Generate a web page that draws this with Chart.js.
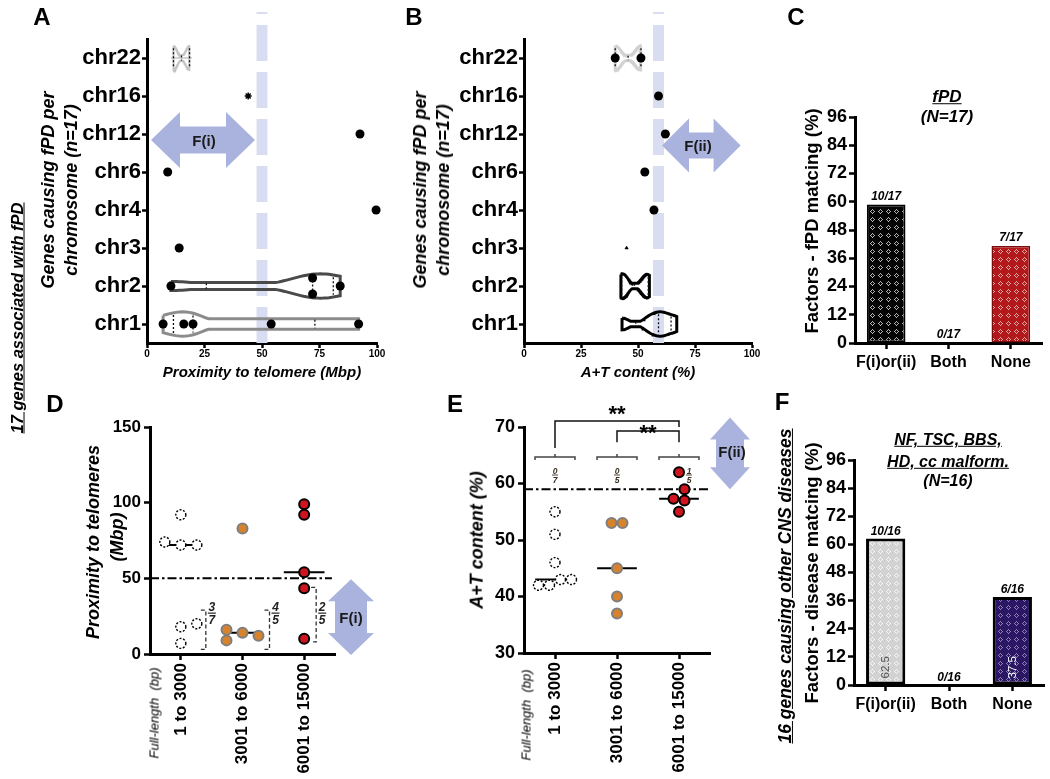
<!DOCTYPE html>
<html>
<head>
<meta charset="utf-8">
<title>Figure</title>
<script src="https://cdn.jsdelivr.net/npm/chart.js@4.4.1/dist/chart.umd.min.js"></script>
<style>
html,body{margin:0;padding:0;background:#fff;}
#fig{position:relative;width:1050px;height:779px;overflow:hidden;background:#fff;font-family:"Liberation Sans",Arial,Helvetica,sans-serif;color:#000;}
#fig canvas{position:absolute;}
.t{position:absolute;white-space:nowrap;font-weight:bold;line-height:1.15;transform:translate(-50%,-50%);z-index:5;text-align:center;}
.rot{transform:translate(-50%,-50%) rotate(-90deg);}
.it{font-style:italic;}
.ul{text-decoration:underline;}
.nw{font-weight:normal;}
</style>
</head>
<body>
<div id="fig">
  <div class="t" style="left:42px;top:17px;font-size:24px;">A</div>
  <div class="t" style="left:414px;top:17px;font-size:24px;">B</div>
  <div class="t" style="left:796px;top:17px;font-size:24px;">C</div>
  <div class="t" style="left:55px;top:404px;font-size:24px;">D</div>
  <div class="t" style="left:455px;top:404px;font-size:24px;">E</div>
  <div class="t" style="left:782px;top:402px;font-size:24px;">F</div>

  <div class="t rot it ul" style="left:17px;top:318px;font-size:16.5px;">17 genes associated with fPD</div>

  <div class="t rot it" style="left:60px;top:190px;font-size:18px;line-height:23px;">Genes causing fPD per<br>chromosome (n=17)</div>
  <div class="t it" style="left:262px;top:372px;font-size:15px;">Proximity to telomere (Mbp)</div>
  <div class="t" style="left:204px;top:141px;font-size:15px;color:#1a1a1a;">F(i)</div>

  <div class="t rot it" style="left:432px;top:190px;font-size:18px;line-height:23px;">Genes causing fPD per<br>chromosome (n=17)</div>
  <div class="t it" style="left:638px;top:372px;font-size:15px;">A+T content (%)</div>
  <div class="t" style="left:698px;top:146px;font-size:15px;color:#1a1a1a;">F(ii)</div>

  <div class="t it ul" style="left:947px;top:97px;font-size:17px;">fPD</div>
  <div class="t it" style="left:947px;top:117px;font-size:17px;">(N=17)</div>
  <div class="t rot" style="left:812px;top:221px;font-size:18.5px;">Factors - fPD matcing (%)</div>

  <div class="t rot it" style="left:93px;top:542px;font-size:18px;">Proximity to telomeres</div>
  <div class="t rot it" style="left:117px;top:537px;font-size:18px;">(Mbp)</div>
  <div class="t rot it nw" style="left:155px;top:713px;font-size:13px;">Full-length&nbsp;&nbsp;(bp)</div>
  <div class="t" style="left:351px;top:618px;font-size:15px;color:#1a1a1a;">F(i)</div>

  <div class="t rot it" style="left:477px;top:540px;font-size:18px;">A+T content (%)</div>
  <div class="t rot it nw" style="left:527px;top:715px;font-size:13px;">Full-length&nbsp;&nbsp;(bp)</div>
  <div class="t" style="left:732px;top:452px;font-size:15px;color:#1a1a1a;">F(ii)</div>

  <div class="t rot it ul" style="left:785px;top:586px;font-size:17.5px;">16 genes causing other CNS diseases</div>
  <div class="t rot" style="left:812px;top:573px;font-size:18.5px;">Factors - disease matcing (%)</div>
  <div class="t it ul" style="left:948px;top:440px;font-size:16px;">NF, TSC, BBS,</div>
  <div class="t it ul" style="left:948px;top:462px;font-size:16px;">HD, cc malform.</div>
  <div class="t it" style="left:948px;top:481px;font-size:16px;">(N=16)</div>
</div>
<script>
// ================= DATA =================
const chromosomes = ['chr22','chr16','chr12','chr6','chr4','chr3','chr2','chr1'];
// Panel A: proximity to telomere (Mbp) per chromosome
const telChr22 = [11.5, 18.5];
const telChr16 = [44];
const telChr12 = [92.6];
const telChr6  = [9];
const telChr4  = [99.6];
const telChr3  = [14];
const telChr2  = [10.4, 72, 72, 84];
const telChr1  = [7, 16, 20, 54, 92];
const telTicks = [0, 25, 50, 75, 100];
const telomereThreshold = 50;
// Panel B: A+T content (%) per chromosome
const atChr22 = [40, 51.3];
const atChr16 = [59];
const atChr12 = [62];
const atChr6  = [53];
const atChr4  = [57];
const atChr3  = [45];
const atChr2  = [42.5, 44, 53, 55];
const atChr1  = [43, 55, 59, 62, 67];
const atTicksB = [0, 25, 50, 75, 100];
const atThreshold = 59;
// Panels D/E: by full-length groups
const lengthGroups = ['1 to 3000', '3001 to 6000', '6001 to 15000'];
const telShort = [92, 72, 72, 74, 7, 18, 20];
const telMid   = [83, 14, 12, 16, 9];
const telLong  = [99, 92, 54, 43.5, 10];
const telTicksD = [0, 50, 100, 150];
const atShort = [55, 51, 46, 43, 42, 43, 42];
const atMid   = [53, 53, 45, 40, 37];
const atLong  = [62, 59, 57.3, 57, 55];
const atTicksE = [30, 40, 50, 60, 70];
const sigPairs = [[0, 2, '**'], [1, 2, '**']];
// Panels C/F
const factorCats = ['F(i)or(ii)', 'Both', 'None'];
const fpdMatched = [10, 0, 7];
const fpdTotal = 17;
const cnsMatched = [10, 0, 6];
const cnsTotal = 16;
const pctTicks = [0, 12, 24, 36, 48, 60, 72, 84, 96];

// ================= HELPERS =================
const FONT = '"Liberation Sans", Arial, Helvetica, sans-serif';
Chart.defaults.font.family = FONT;
Chart.defaults.color = '#000';
const ARROW = '#aab3dd';
const BAND = '#d9ddf1';
const fig = document.getElementById('fig');

Chart.register({
  id: 'dashPts',
  beforeDatasetDraw(chart, args) {
    const ds = chart.data.datasets[args.index];
    if (ds.pointDash) { chart.ctx.save(); chart.ctx.setLineDash(ds.pointDash); }
  },
  afterDatasetDraw(chart, args) {
    const ds = chart.data.datasets[args.index];
    if (ds.pointDash) chart.ctx.restore();
  }
});

function median(a) { const s = [...a].sort((x, y) => x - y), n = s.length; return n % 2 ? s[(n - 1) / 2] : (s[n / 2 - 1] + s[n / 2]) / 2; }
function quantile(a, p) {
  const s = [...a].sort((x, y) => x - y), n = s.length; const pos = (n + 1) * p;
  if (pos <= 1) return s[0]; if (pos >= n) return s[n - 1];
  const lo = Math.floor(pos); return s[lo - 1] + (pos - lo) * (s[lo] - s[lo - 1]);
}
function kdeHalf(values, bw, maxHalf, minHalf) {
  const lo = Math.min(...values), hi = Math.max(...values);
  const dens = x => values.reduce((s, v) => s + Math.exp(-0.5 * ((x - v) / bw) ** 2), 0);
  let m = 0; for (let k = 0; k <= 100; k++) m = Math.max(m, dens(lo + (hi - lo) * k / 100));
  return x => Math.max(minHalf, maxHalf * dens(x) / m);
}
function violinOutline(values, idx, f) {
  const lo = Math.min(...values), hi = Math.max(...values), n = 60, pts = [];
  for (let k = 0; k <= n; k++) { const x = lo + (hi - lo) * k / n; pts.push({x, y: idx - f(x)}); }
  for (let k = n; k >= 0; k--) { const x = lo + (hi - lo) * k / n; pts.push({x, y: idx + f(x)}); }
  pts.push({x: pts[0].x, y: pts[0].y});
  return pts;
}
function violinQuartiles(values, idx, f) {
  const pts = [];
  [0.25, 0.5, 0.75].forEach(p => { const q = quantile(values, p); const h = f(q) * 0.8; pts.push({x: q, y: idx - h}, {x: q, y: idx + h}, {x: NaN, y: NaN}); });
  return pts;
}
// row-based column scatter: points closer than vth (px) along the value axis are moved sideways by whole steps
function swarm(values, pxUnit, vth, step, order, center) {
  const placed = [];
  values.forEach(v => {
    const p = v * pxUnit;
    let o = 0;
    for (const k of order) {
      const c = k * step;
      if (placed.every(q => Math.abs(q.p - p) >= vth || Math.abs(q.o - c) >= step - 1e-6)) { o = c; break; }
    }
    placed.push({p, o});
  });
  if (center) {
    const n = placed.length, grp = placed.map((_, i) => i);
    const find = i => grp[i] === i ? i : (grp[i] = find(grp[i]));
    for (let i = 0; i < n; i++) for (let j = 0; j < i; j++) if (Math.abs(placed[i].p - placed[j].p) < vth) grp[find(i)] = find(j);
    const ext = {};
    placed.forEach((q, i) => { const r = find(i); if (!ext[r]) ext[r] = [q.o, q.o]; ext[r][0] = Math.min(ext[r][0], q.o); ext[r][1] = Math.max(ext[r][1], q.o); });
    placed.forEach((q, i) => { const e = ext[find(i)]; q.o -= (e[0] + e[1]) / 2; });
  }
  return placed.map(q => q.o);
}
const ORDER_R = [0, 1, -1, 2, -2, 3, -3];
const ORDER_L = [0, -1, 1, -2, 2, -3, 3];
function hPoints(values, idx, pxUnit, pxCat) { const o = swarm(values, pxUnit, 9, 16, ORDER_R, true); return values.map((v, k) => ({x: v, y: idx + o[k] / pxCat})); }
function vPoints(values, idx, pxUnit, pxCat, vth, step, order, center) { const o = swarm(values, pxUnit, vth, step, order, center); return values.map((v, k) => ({x: idx + o[k] / pxCat, y: v})); }

function ax(o) {
  const s = {
    type: o.type || 'linear',
    border: {display: true, color: '#000', width: 3},
    grid: {display: true, drawOnChartArea: false, drawTicks: true, tickLength: o.tl || 6, tickWidth: 2.5, tickColor: '#000', offset: false},
    ticks: {font: {size: o.fs, weight: 'bold'}, color: '#000', padding: (o.pad !== undefined ? o.pad : 3), autoSkip: false, maxRotation: o.rot || 0, minRotation: o.rot || 0}
  };
  if (o.min !== undefined) s.min = o.min;
  if (o.max !== undefined) s.max = o.max;
  if (o.reverse) s.reverse = true;
  if (o.offset !== undefined) s.offset = o.offset;
  if (o.tickValues) s.afterBuildTicks = sc => { sc.ticks = o.tickValues.map(v => ({value: v})); };
  if (o.cb) s.ticks.callback = o.cb;
  return s;
}
function makeChart(box, area, config) {
  const [L, T, W, H] = box, [l, t, r, b] = area;
  const cv = document.createElement('canvas');
  cv.width = W; cv.height = H;
  cv.style.left = L + 'px'; cv.style.top = T + 'px'; cv.style.width = W + 'px'; cv.style.height = H + 'px';
  fig.insertBefore(cv, fig.firstChild);
  const o = config.options;
  o.responsive = false; o.maintainAspectRatio = false; o.animation = false; o.events = [];
  o.layout = {padding: {left: 0, top: t - T, right: L + W - r, bottom: 0}};
  o.plugins = {legend: {display: false}, tooltip: {enabled: false}};
  o.scales.x.afterFit = s => { s.height = T + H - b; };
  o.scales.y.afterFit = s => { s.width = l - L; };
  return new Chart(cv, config);
}
function dArrow(ctx, x1, y1, x2, y2, headHalf, shaftHalf, headLen) {
  const L = Math.hypot(x2 - x1, y2 - y1), a = Math.atan2(y2 - y1, x2 - x1);
  ctx.save(); ctx.translate(x1, y1); ctx.rotate(a);
  ctx.beginPath(); ctx.moveTo(0, 0); ctx.lineTo(headLen, -headHalf); ctx.lineTo(headLen, -shaftHalf);
  ctx.lineTo(L - headLen, -shaftHalf); ctx.lineTo(L - headLen, -headHalf); ctx.lineTo(L, 0);
  ctx.lineTo(L - headLen, headHalf); ctx.lineTo(L - headLen, shaftHalf); ctx.lineTo(headLen, shaftHalf); ctx.lineTo(headLen, headHalf);
  ctx.closePath(); ctx.fillStyle = ARROW; ctx.fill(); ctx.restore();
}
function band(chart, v) {
  const ctx = chart.ctx, x = chart.scales.x.getPixelForValue(v);
  ctx.save(); ctx.strokeStyle = BAND; ctx.lineWidth = 11; ctx.setLineDash([36, 11]);
  ctx.beginPath(); ctx.moveTo(x, chart.chartArea.bottom); ctx.lineTo(x, 12); ctx.stroke(); ctx.restore();
}
function lineDs(pts, color, width, dash) {
  return {data: pts, showLine: true, borderColor: color, borderWidth: width, borderDash: dash || [], pointRadius: 0, fill: false, tension: 0, clip: false, spanGaps: false};
}
function ptDs(pts, bg, bc, bw, radius, style, dash) {
  const d = {data: pts, showLine: false, pointRadius: radius, pointBackgroundColor: bg, pointBorderColor: bc, pointBorderWidth: bw, backgroundColor: bg, borderColor: bc, pointStyle: style || 'circle', clip: false};
  if (dash) d.pointDash = dash;
  return d;
}

// ================= PANEL A =================
(function () {
  const pxU = 2.3, pxC = 38, ci = c => chromosomes.indexOf(c);
  const series = {chr22: telChr22, chr16: telChr16, chr12: telChr12, chr6: telChr6, chr4: telChr4, chr3: telChr3, chr2: telChr2, chr1: telChr1};
  const violins = [['chr22', '#c4c4c4', 2, 1.6, 0.08], ['chr2', '#4a4a4a', 3, 11, 0.09], ['chr1', '#8c8c8c', 3, 7, 0.14]];
  const dots = ['chr12', 'chr6', 'chr4', 'chr3', 'chr2', 'chr1'];
  const ds = [];
  let pts = [];
  dots.forEach(c => { pts = pts.concat(hPoints(series[c], ci(c), pxU, pxC)); });
  ds.push(ptDs(pts, '#000', '#000', 0, 4.5));
  ds.push(ptDs(telChr16.map(v => ({x: v, y: ci('chr16')})), '#000', '#000', 1.5, 3.5, 'star'));
  violins.forEach(([c, col, w, bw, mn]) => {
    const f = kdeHalf(series[c], bw, 0.32, mn);
    ds.push(lineDs(violinQuartiles(series[c], ci(c), f), '#111', 1.3, [2, 2]));
    ds.push(lineDs(violinOutline(series[c], ci(c), f), col, w));
  });
  const c22 = telChr22;
  ds.push(lineDs([{x: Math.min(...c22) - 1, y: ci('chr22')}, {x: Math.max(...c22) + 1, y: ci('chr22')}], '#c4c4c4', 1.5));
  makeChart([0, 0, 390, 390], [147, 39, 377, 343], {
    type: 'scatter', data: {datasets: ds},
    options: {scales: {
      x: ax({min: 0, max: 100, tickValues: telTicks, fs: 10, tl: 5, pad: 0}),
      y: ax({min: -0.5, max: 7.5, reverse: true, tickValues: chromosomes.map((c, i) => i), cb: v => chromosomes[v], fs: 22, tl: 5, pad: 1})
    }},
    plugins: [{id: 'annA',
      beforeDatasetsDraw(ch) {
        band(ch, telomereThreshold);
        const xs = ch.scales.x, ys = ch.scales.y;
        const yc = ys.getPixelForValue(2.16);
        dArrow(ch.ctx, xs.getPixelForValue(0) + 4, yc, xs.getPixelForValue(telomereThreshold) - 7, yc, 28, 13.5, 29);
      }}]
  });
})();

// ================= PANEL B =================
(function () {
  const pxU = 2.28, pxC = 38, ci = c => chromosomes.indexOf(c);
  const series = {chr22: atChr22, chr16: atChr16, chr12: atChr12, chr6: atChr6, chr4: atChr4, chr3: atChr3, chr2: atChr2, chr1: atChr1};
  const violins = [['chr22', '#d2d2d2', 3, 2.5], ['chr2', '#000', 3, 2.2], ['chr1', '#000', 3, 3]];
  const dots = ['chr22', 'chr16', 'chr12', 'chr6', 'chr4'];
  const ds = [];
  let pts = [];
  dots.forEach(c => { pts = pts.concat(hPoints(series[c], ci(c), pxU, pxC)); });
  ds.push(ptDs(pts, '#000', '#000', 0, 4.5));
  ds.push(ptDs(atChr3.map(v => ({x: v, y: ci('chr3')})), '#000', '#000', 0.5, 2, 'triangle'));
  violins.forEach(([c, col, w, bw]) => {
    const f = kdeHalf(series[c], bw, 0.32, 0.07);
    ds.push(lineDs(violinQuartiles(series[c], ci(c), f), '#111', 1.3, [2, 2]));
    ds.push(lineDs(violinOutline(series[c], ci(c), f), col, w));
  });
  makeChart([380, 0, 390, 390], [524, 39, 752, 343], {
    type: 'scatter', data: {datasets: ds},
    options: {scales: {
      x: ax({min: 0, max: 100, tickValues: atTicksB, fs: 10, tl: 5, pad: 0}),
      y: ax({min: -0.5, max: 7.5, reverse: true, tickValues: chromosomes.map((c, i) => i), cb: v => chromosomes[v], fs: 22, tl: 5, pad: 1})
    }},
    plugins: [{id: 'annB',
      beforeDatasetsDraw(ch) {
        band(ch, atThreshold);
        const xs = ch.scales.x, ys = ch.scales.y;
        const yc = ys.getPixelForValue(2.3);
        dArrow(ch.ctx, xs.getPixelForValue(atThreshold) + 3.5, yc, xs.getPixelForValue(95), yc, 27, 13, 27);
      }}]
  });
})();

// ================= PANELS C & F =================
function patternFill(bg, fg) {
  const c = document.createElement('canvas'); c.width = 8; c.height = 8;
  const g = c.getContext('2d'); g.fillStyle = bg; g.fillRect(0, 0, 8, 8); g.fillStyle = fg;
  [[4, 1], [3, 2], [5, 2], [2, 3], [6, 3], [3, 4], [5, 4], [4, 5]].forEach(([x, y]) => g.fillRect(x, y, 1, 1));
  return g.createPattern(c, 'repeat');
}
function barChart(box, area, counts, total, fills, borders, bws, gap, inside) {
  const vals = counts.map(c => c / total * 100);
  return makeChart(box, area, {
    type: 'bar',
    data: {labels: factorCats, datasets: [{data: vals, backgroundColor: fills, borderColor: borders, borderWidth: bws, borderSkipped: false, barPercentage: 0.62, categoryPercentage: 1}]},
    options: {scales: {
      x: ax({type: 'category', offset: true, fs: 16, tl: 6, pad: 4}),
      y: ax({min: 0, max: 96, tickValues: pctTicks, fs: 18, tl: 6, pad: 2})
    }},
    plugins: [{id: 'lbl', afterDatasetsDraw(ch) {
      const ctx = ch.ctx, meta = ch.getDatasetMeta(0);
      meta.data.forEach((el, i) => {
        ctx.save(); ctx.font = 'italic bold 12px ' + FONT; ctx.fillStyle = '#000'; ctx.textAlign = 'center'; ctx.textBaseline = 'alphabetic';
        ctx.fillText(counts[i] + '/' + total, el.x, el.y - gap); ctx.restore();
        if (inside && vals[i] > 0) {
          ctx.save(); ctx.translate(el.x, el.base - 6); ctx.rotate(-Math.PI / 2);
          ctx.font = '11.5px ' + FONT; ctx.fillStyle = inside[i]; ctx.textAlign = 'left'; ctx.textBaseline = 'middle';
          ctx.fillText(vals[i].toFixed(1), 0, 0); ctx.restore();
        }
      });
    }}]
  });
}
barChart([740, 0, 310, 390], [855, 117, 1042, 343], fpdMatched, fpdTotal,
  [patternFill('#050505', '#b4b4b4'), '#000', patternFill('#b3181b', '#e4a8a8')],
  ['#000', '#000', '#7a0c0c'], [2, 0, 1.5], 5, null);
barChart([740, 380, 310, 399], [854, 460, 1044, 685], cnsMatched, cnsTotal,
  [patternFill('#d2d2d2', '#f4f4f4'), '#000', patternFill('#2b1763', '#8a82b6')],
  ['#000', '#000', '#000'], [3, 0, 3], 4, ['#555', null, '#fff']);

// ================= PANEL D =================
const groupStyles = [
  {bg: '#ffffff', bc: '#000', bw: 1.4, dash: [2, 1.6]},
  {bg: '#d8832b', bc: '#7f7f7f', bw: 2},
  {bg: '#cf1420', bc: '#000', bw: 2}
];
(function () {
  const groups = [telShort, telMid, telLong];
  const pxU = 227 / 150, pxC = 185 / 3;
  const ds = [];
  groups.forEach((g, i) => { const s = groupStyles[i]; ds.push(ptDs(vPoints(g, i, pxU, pxC, 10, 16, ORDER_R, false), s.bg, s.bc, s.bw, 5, 'circle', s.dash)); });
  groups.forEach((g, i) => { const m = median(g); ds.push(lineDs([{x: i - 0.33, y: m}, {x: i + 0.33, y: m}], '#000', 2)); });
  ds.push(lineDs([{x: -0.5, y: telomereThreshold}, {x: 2.45, y: telomereThreshold}], '#000', 2, [9, 3, 2.5, 3]));
  const brOff = [25, 27, 12], brRange = [[3, 29], [3, 29], [8, 44]];
  makeChart([0, 380, 390, 399], [150, 427, 335, 654], {
    type: 'scatter', data: {datasets: ds},
    options: {scales: {
      x: ax({min: -0.5, max: 2.5, tickValues: [0, 1, 2], cb: v => lengthGroups[v], fs: 17, tl: 6, pad: 3, rot: 90}),
      y: ax({min: 0, max: 150, tickValues: telTicksD, fs: 17, tl: 6, pad: 3})
    }},
    plugins: [{id: 'annD',
      beforeDatasetsDraw(ch) {
        const xs = ch.scales.x, ys = ch.scales.y;
        const xc = xs.getPixelForValue(2.5) + 16;
        dArrow(ch.ctx, xc, ys.getPixelForValue(telomereThreshold) + 1, xc, ys.getPixelForValue(0) + 1, 23, 16, 22);
      },
      afterDatasetsDraw(ch) {
        const ctx = ch.ctx, xs = ch.scales.x, ys = ch.scales.y;
        groups.forEach((g, i) => {
          const bx = xs.getPixelForValue(i) + brOff[i];
          const yT = ys.getPixelForValue(brRange[i][1]), yB = ys.getPixelForValue(brRange[i][0]);
          ctx.save(); ctx.strokeStyle = '#333'; ctx.lineWidth = 1.3; ctx.setLineDash([4, 2.5]);
          ctx.beginPath(); ctx.moveTo(bx - 5, yT); ctx.lineTo(bx, yT); ctx.lineTo(bx, yB); ctx.lineTo(bx - 5, yB); ctx.stroke(); ctx.restore();
          const below = g.filter(v => v < telomereThreshold).length;
          const fx = bx + 6, fy = ys.getPixelForValue(27);
          ctx.save(); ctx.fillStyle = '#222'; ctx.font = 'italic bold 12px ' + FONT; ctx.textAlign = 'center'; ctx.textBaseline = 'alphabetic';
          ctx.fillText(String(below), fx, fy - 2); ctx.fillText(String(g.length), fx, fy + 11);
          ctx.strokeStyle = '#222'; ctx.lineWidth = 1.2; ctx.beginPath(); ctx.moveTo(fx - 4, fy); ctx.lineTo(fx + 4, fy); ctx.stroke(); ctx.restore();
        });
      }}]
  });
})();

// ================= PANEL E =================
(function () {
  const groups = [atShort, atMid, atLong];
  const pxU = 226 / 40, pxC = 62;
  const ds = [];
  groups.forEach((g, i) => { const s = groupStyles[i]; ds.push(ptDs(vPoints(g, i, pxU, pxC, 10, 11, ORDER_L, true), s.bg, s.bc, s.bw, 5, 'circle', s.dash)); });
  groups.forEach((g, i) => { const m = median(g); ds.push(lineDs([{x: i - 0.32, y: m}, {x: i + 0.32, y: m}], '#000', 2)); });
  ds.push(lineDs([{x: -0.5, y: atThreshold}, {x: 2.47, y: atThreshold}], '#000', 2, [9, 3, 2.5, 3]));
  const sigLevels = [[66.3, 71.06, 70.0], [67.3, 69.3, 67.3]], starDy = [0, 9], fracOff = [0, 0, 10];
  makeChart([380, 380, 390, 399], [524, 427, 710, 653], {
    type: 'scatter', data: {datasets: ds},
    options: {scales: {
      x: ax({min: -0.5, max: 2.5, tickValues: [0, 1, 2], cb: v => lengthGroups[v], fs: 17, tl: 6, pad: 3, rot: 90}),
      y: ax({min: 30, max: 70, tickValues: atTicksE, fs: 18, tl: 6, pad: 3})
    }},
    plugins: [{id: 'annE',
      beforeDatasetsDraw(ch) {
        const xs = ch.scales.x, ys = ch.scales.y;
        const xc = xs.getPixelForValue(2.5) + 20;
        dArrow(ch.ctx, xc, ys.getPixelForValue(71.7), xc, ys.getPixelForValue(atThreshold), 20, 14, 22);
      },
      afterDatasetsDraw(ch) {
        const ctx = ch.ctx, xs = ch.scales.x, ys = ch.scales.y;
        groups.forEach((g, i) => {
          const cx = xs.getPixelForValue(i), y = ys.getPixelForValue(64.7);
          ctx.save(); ctx.strokeStyle = '#444'; ctx.lineWidth = 1.5;
          ctx.beginPath(); ctx.moveTo(cx - 20, y + 3); ctx.lineTo(cx - 20, y); ctx.lineTo(cx + 20, y); ctx.lineTo(cx + 20, y + 3);
          ctx.moveTo(cx, y); ctx.lineTo(cx, y - 3); ctx.stroke(); ctx.restore();
          const above = g.filter(v => v > atThreshold).length;
          const fx = cx + fracOff[i], fy = ys.getPixelForValue(61.5);
          ctx.save(); ctx.fillStyle = '#3a3020'; ctx.font = 'italic bold 8.5px ' + FONT; ctx.textAlign = 'center'; ctx.textBaseline = 'alphabetic';
          ctx.fillText(String(above), fx, fy - 1.5); ctx.fillText(String(g.length), fx, fy + 8);
          ctx.strokeStyle = '#3a3020'; ctx.lineWidth = 0.9; ctx.beginPath(); ctx.moveTo(fx - 3, fy); ctx.lineTo(fx + 3, fy); ctx.stroke(); ctx.restore();
        });
        sigPairs.forEach(([a, b, lab], k) => {
          const [l1, top, l2] = sigLevels[k];
          const xa = xs.getPixelForValue(a), xb = xs.getPixelForValue(b), yt = ys.getPixelForValue(top);
          ctx.save(); ctx.strokeStyle = '#111'; ctx.lineWidth = 1.5;
          ctx.beginPath(); ctx.moveTo(xa, ys.getPixelForValue(l1)); ctx.lineTo(xa, yt); ctx.lineTo(xb, yt); ctx.lineTo(xb, ys.getPixelForValue(l2)); ctx.stroke();
          ctx.fillStyle = '#000'; ctx.font = 'bold 22px ' + FONT; ctx.textAlign = 'center'; ctx.textBaseline = 'alphabetic';
          ctx.fillText(lab, (xa + xb) / 2, yt + starDy[k]); ctx.restore();
        });
      }}]
  });
})();
</script>
</body>
</html>
